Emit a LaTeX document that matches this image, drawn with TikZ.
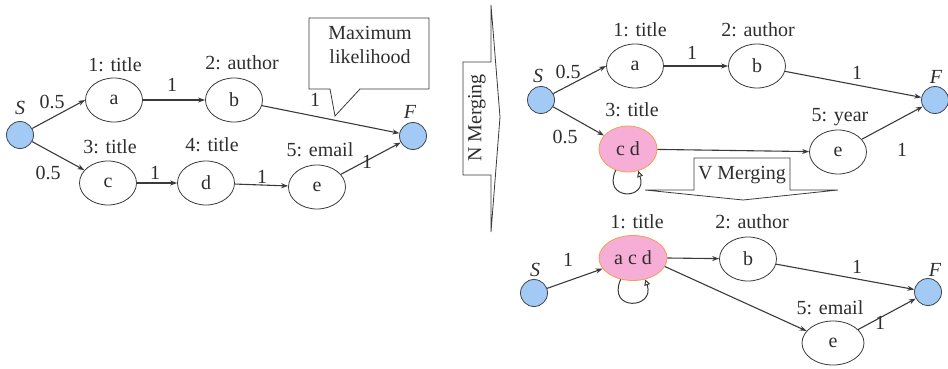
\documentclass[tikz,border=0pt]{standalone}
\usepackage{fontspec}
\setmainfont{Liberation Serif}
\usetikzlibrary{arrows.meta,shapes.geometric}
\definecolor{ink}{HTML}{3A3A3A}
\definecolor{txt}{HTML}{2E2E2E}
\definecolor{sfblue}{RGB}{163,201,245}
\definecolor{sfedge}{HTML}{3C4650}
\definecolor{pinkf}{RGB}{247,174,214}
\definecolor{orng}{RGB}{240,160,80}
\begin{document}
\begin{tikzpicture}[x=1pt,y=-1pt,
  font=\fontsize{20}{23}\selectfont, text=txt,
  st/.style={ellipse, draw=ink, line width=0.8pt, fill=white, minimum width=57pt, minimum height=44pt, inner sep=0pt},
  merged/.style={st, fill=pinkf, draw=orng},
  term/.style={circle, draw=sfedge, fill=sfblue, minimum size=27pt, inner sep=0pt, line width=0.8pt},
  lab/.style={inner sep=0pt},
  ed/.style={draw=ink, line width=1.1pt, -{Stealth[length=7pt,width=5pt]}},
  selfloop/.style={draw=ink, line width=1pt, -{Triangle[open,length=6pt,width=6pt]}},
  shapeline/.style={draw=ink, line width=0.8pt}]
\useasboundingbox (0,0) rectangle (948,369);

% ---------------- left graph ----------------
\node[term] (S1) at (20,135) {};
\node[st] (a1) at (114,100) {a};
\node[st] (b1) at (234,100) {b};
\node[st] (c1) at (108,183) {c};
\node[st] (d1) at (206,183) {d};
\node[st] (e1) at (317,187) {e};
\node[term] (F1) at (413,136) {};

\node[lab] (S1l) at (20,108) {\itshape S};
\node[lab] (F1l) at (410,112) {\itshape F};
\node[lab] (a1l) at (115,65) {1: title};
\node[lab] (b1l) at (242,63) {2: author};
\node[lab] (c1l) at (110,147) {3: title};
\node[lab] (d1l) at (212,145) {4: title};
\node[lab] (e1l) at (320,150) {5: email};

\draw[ed] (S1) -- (a1.west);
\draw[ed] (S1) -- (c1);
\draw[ed] (a1) -- (b1);
\draw[ed] (b1) -- (F1);
\draw[ed] (c1) -- (d1);
\draw[ed] (d1) -- (e1);
\draw[ed] (e1) -- (F1);

\node[lab] (w1) at (52,102) {0.5};
\node[lab] (w2) at (48,173) {0.5};
\node[lab] (w3) at (172,85) {1};
\node[lab] (w4) at (155,173) {1};
\node[lab] (w5) at (262,177) {1};
\node[lab] (w6) at (315,100) {1};
\node[lab] (w7) at (367,162) {1};

% callout
\draw[shapeline, fill=white] (309,18) -- (429,18) -- (429,89) -- (360,89) -- (335,116) -- (330,89) -- (309,89) -- cycle;
\node[lab, align=center, font=\fontsize{20}{24}\selectfont] (ml) at (370,45) {Maximum\\likelihood};

% N Merging arrow
\draw[shapeline, fill=white] (463,62) -- (491,62) -- (491,5) -- (500,117) -- (491,232) -- (491,175) -- (463,175) -- cycle;
\node[lab, rotate=90] (nm) at (477,118) {N Merging};

% ---------------- right top graph ----------------
\node[term] (S2) at (541,100) {};
\node[st] (a2) at (635,66) {a};
\node[st] (b2) at (757,66) {b};
\node[merged, minimum width=58pt, minimum height=46pt] (cd) at (628,149) {c d};
\node[st] (e2) at (838,152) {e};
\node[term] (F2) at (935,100) {};

\node[lab] (S2l) at (538,76) {\itshape S};
\node[lab] (F2l) at (936,77) {\itshape F};
\node[lab] (a2l) at (640,30) {1: title};
\node[lab] (b2l) at (758,30) {2: author};
\node[lab] (cdl) at (632,110) {3: title};
\node[lab] (e2l) at (840,117) {5: year};

\draw[ed] (S2) -- (a2.west);
\draw[ed] (S2) -- (cd);
\draw[ed] (a2) -- (b2);
\draw[ed] (b2) -- (F2);
\draw[ed] (cd) -- (e2);
\draw[ed] (e2) -- (F2);
\draw[selfloop] (cd.240) .. controls +(-14,30) and +(10,30) .. (cd.295);

\node[lab] (v1) at (568,72) {0.5};
\node[lab] (v2) at (565,137) {0.5};
\node[lab] (v3) at (692,53) {1};
\node[lab] (v4) at (857,73) {1};
\node[lab] (v5) at (902,150) {1};

% V Merging arrow
\draw[shapeline, fill=white] (694,190) -- (694,158) -- (790,158) -- (790,190) -- (838,190) -- (743,200) -- (645,190) -- cycle;
\node[lab] (vm) at (742,175) {V Merging};

% ---------------- right bottom graph ----------------
\node[term] (S3) at (534,293) {};
\node[merged, minimum width=68pt, minimum height=45pt] (acd) at (633,258) {a c d};
\node[st] (b3) at (748,259) {b};
\node[st, minimum width=62pt] (e3) at (833,343) {e};
\node[term] (F3) at (928,292) {};

\node[lab] (S3l) at (535,270) {\itshape S};
\node[lab] (F3l) at (935,270) {\itshape F};
\node[lab] (acdl) at (637,222) {1: title};
\node[lab] (b3l) at (752,222) {2: author};
\node[lab] (e3l) at (830,308) {5: email};

\draw[ed] (S3) -- (acd);
\draw[ed] (acd.east) -- (b3);
\draw[ed] (acd.345) -- (e3);
\draw[ed] (b3) -- (F3);
\draw[ed] (e3) -- (F3);
\draw[selfloop] (acd.240) .. controls +(-14,32) and +(10,30) .. (acd.300);

\node[lab] (u1) at (568,260) {1};
\node[lab] (u2) at (857,267) {1};
\node[lab] (u3) at (880,323) {1};
\end{tikzpicture}
\end{document}
